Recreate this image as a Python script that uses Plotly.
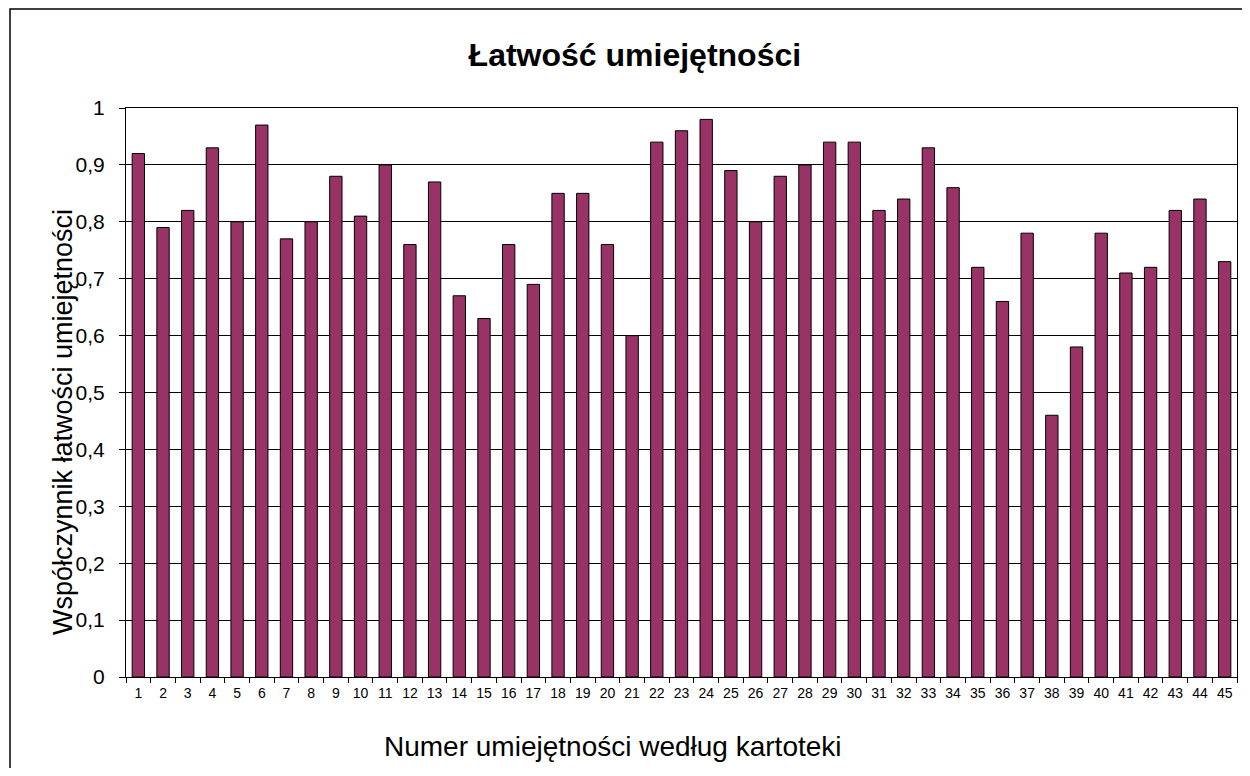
import plotly.graph_objects as go

# numer umiejętności wg kartoteki i odczytany współczynnik łatwości
skills = [str(i) for i in range(1, 46)]
easiness = [
    0.92, 0.79, 0.82, 0.93, 0.80, 0.97, 0.77, 0.80, 0.88, 0.81,
    0.90, 0.76, 0.87, 0.67, 0.63, 0.76, 0.69, 0.85, 0.85, 0.76,
    0.60, 0.94, 0.96, 0.98, 0.89, 0.80, 0.88, 0.90, 0.94, 0.94,
    0.82, 0.84, 0.93, 0.86, 0.72, 0.66, 0.78, 0.46, 0.58, 0.78,
    0.71, 0.72, 0.82, 0.84, 0.73,
]
y_ticks = [0, 0.1, 0.2, 0.3, 0.4, 0.5, 0.6, 0.7, 0.8, 0.9, 1]

font = "Liberation Sans, Arial, sans-serif"

fig = go.Figure(
    go.Bar(
        x=skills,
        y=easiness,
        marker={"color": "#993366", "line": {"color": "#000000", "width": 1}},
        hovertemplate="Umiejętność %{x}<br>%{y:.2f}<extra></extra>",
    )
)

fig.update_layout(
    width=1234,
    height=760,
    separators=", ",
    title={
        "text": "<b>Łatwość umiejętności</b>",
        "xref": "container",
        "x": 0.508,
        "xanchor": "center",
        "y": 0.938,
        "yanchor": "middle",
        "font": {"family": font, "size": 32, "color": "#000000"},
    },
    margin={"l": 118, "r": 5, "t": 100, "b": 91},
    paper_bgcolor="#ffffff",
    plot_bgcolor="#ffffff",
    bargap=0.5,
    showlegend=False,
    font={"family": font, "color": "#000000"},
)

fig.update_xaxes(
    type="category",
    tickson="boundaries",
    ticks="outside",
    ticklen=5,
    tickcolor="#000000",
    tickfont={"size": 14},
    tickangle=0,
    ticklabelstandoff=3,
    showline=True,
    linecolor="#000000",
    linewidth=1,
    mirror=True,
    showgrid=False,
)

fig.update_yaxes(
    range=[0, 1],
    tickvals=y_ticks,
    ticks="outside",
    ticklen=6,
    tickcolor="#000000",
    tickfont={"size": 21},
    ticklabelstandoff=10,
    showline=True,
    linecolor="#000000",
    linewidth=1,
    mirror=True,
    showgrid=True,
    gridcolor="#000000",
    gridwidth=1,
    zeroline=False,
)

# tytuły osi
fig.add_annotation(
    text="Numer umiejętności według kartoteki",
    xref="paper", yref="paper", x=0.438, y=-0.123,
    xanchor="center", yanchor="middle", showarrow=False,
    font={"family": font, "size": 28, "color": "#000000"},
)
fig.add_annotation(
    text="Współczynnik łatwości umiejętności",
    xref="paper", yref="paper", x=-0.0567, y=0.448,
    xanchor="center", yanchor="middle", textangle=-90, showarrow=False,
    font={"family": font, "size": 27, "color": "#000000"},
)

# ramka całego obszaru wykresu (jak w Excelu)
fig.add_shape(
    type="rect",
    xref="paper",
    yref="paper",
    x0=-0.1044,
    x1=1.1,
    y0=-0.3,
    y1=1.174,
    line={"color": "#000000", "width": 1.5},
    fillcolor="rgba(0,0,0,0)",
    layer="below",
)

fig.write_html("out.html")
